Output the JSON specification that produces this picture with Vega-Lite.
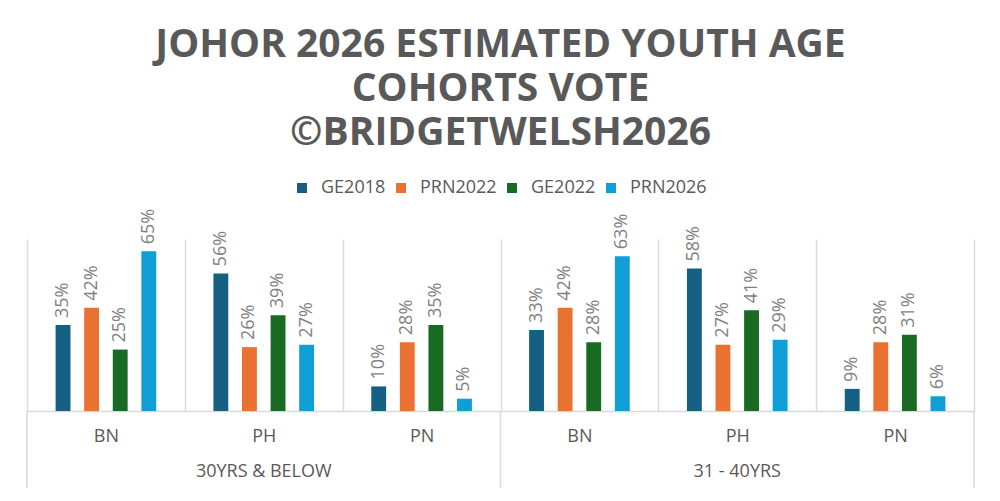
{
  "$schema": "https://vega.github.io/schema/vega-lite/v6.json",
  "autosize": {"type": "none"},
  "width": 947,
  "height": 172,
  "padding": {"left": 27, "top": 239, "right": 26, "bottom": 90},
  "background": "white",
  "title": {
    "text": ["JOHOR 2026 ESTIMATED YOUTH AGE", "COHORTS VOTE", "©BRIDGETWELSH2026"],
    "font": "Open Sans",
    "fontSize": 39,
    "fontWeight": "bold",
    "color": "#595959",
    "lineHeight": 44,
    "anchor": "middle",
    "offset": 26
  },
  "config": {
    "view": {"stroke": null},
    "font": "Open Sans"
  },
  "data": {
    "values": [
      {"cohort": "30YRS & BELOW", "party": "BN", "group": "30YRS & BELOW|BN", "year": "GE2018", "value": 0.35},
      {"cohort": "30YRS & BELOW", "party": "BN", "group": "30YRS & BELOW|BN", "year": "PRN2022", "value": 0.42},
      {"cohort": "30YRS & BELOW", "party": "BN", "group": "30YRS & BELOW|BN", "year": "GE2022", "value": 0.25},
      {"cohort": "30YRS & BELOW", "party": "BN", "group": "30YRS & BELOW|BN", "year": "PRN2026", "value": 0.65},
      {"cohort": "30YRS & BELOW", "party": "PH", "group": "30YRS & BELOW|PH", "year": "GE2018", "value": 0.56},
      {"cohort": "30YRS & BELOW", "party": "PH", "group": "30YRS & BELOW|PH", "year": "PRN2022", "value": 0.26},
      {"cohort": "30YRS & BELOW", "party": "PH", "group": "30YRS & BELOW|PH", "year": "GE2022", "value": 0.39},
      {"cohort": "30YRS & BELOW", "party": "PH", "group": "30YRS & BELOW|PH", "year": "PRN2026", "value": 0.27},
      {"cohort": "30YRS & BELOW", "party": "PN", "group": "30YRS & BELOW|PN", "year": "GE2018", "value": 0.10},
      {"cohort": "30YRS & BELOW", "party": "PN", "group": "30YRS & BELOW|PN", "year": "PRN2022", "value": 0.28},
      {"cohort": "30YRS & BELOW", "party": "PN", "group": "30YRS & BELOW|PN", "year": "GE2022", "value": 0.35},
      {"cohort": "30YRS & BELOW", "party": "PN", "group": "30YRS & BELOW|PN", "year": "PRN2026", "value": 0.05},
      {"cohort": "31 - 40YRS", "party": "BN", "group": "31 - 40YRS|BN", "year": "GE2018", "value": 0.33},
      {"cohort": "31 - 40YRS", "party": "BN", "group": "31 - 40YRS|BN", "year": "PRN2022", "value": 0.42},
      {"cohort": "31 - 40YRS", "party": "BN", "group": "31 - 40YRS|BN", "year": "GE2022", "value": 0.28},
      {"cohort": "31 - 40YRS", "party": "BN", "group": "31 - 40YRS|BN", "year": "PRN2026", "value": 0.63},
      {"cohort": "31 - 40YRS", "party": "PH", "group": "31 - 40YRS|PH", "year": "GE2018", "value": 0.58},
      {"cohort": "31 - 40YRS", "party": "PH", "group": "31 - 40YRS|PH", "year": "PRN2022", "value": 0.27},
      {"cohort": "31 - 40YRS", "party": "PH", "group": "31 - 40YRS|PH", "year": "GE2022", "value": 0.41},
      {"cohort": "31 - 40YRS", "party": "PH", "group": "31 - 40YRS|PH", "year": "PRN2026", "value": 0.29},
      {"cohort": "31 - 40YRS", "party": "PN", "group": "31 - 40YRS|PN", "year": "GE2018", "value": 0.09},
      {"cohort": "31 - 40YRS", "party": "PN", "group": "31 - 40YRS|PN", "year": "PRN2022", "value": 0.28},
      {"cohort": "31 - 40YRS", "party": "PN", "group": "31 - 40YRS|PN", "year": "GE2022", "value": 0.31},
      {"cohort": "31 - 40YRS", "party": "PN", "group": "31 - 40YRS|PN", "year": "PRN2026", "value": 0.06}
    ]
  },
  "encoding": {
    "x": {
      "field": "group", "type": "nominal", "sort": null,
      "scale": {"paddingInner": 0, "paddingOuter": 0},
      "axis": {
        "orient": "bottom",
        "title": null,
        "labelAngle": 0,
        "labelExpr": "split(datum.value, '|')[1]",
        "labelFont": "Open Sans",
        "labelFontSize": 18,
        "labelColor": "#595959",
        "labelPadding": 16,
        "ticks": false,
        "grid": true,
        "gridColor": "#d9d9d9",
        "gridWidth": 1.5,
        "tickBand": "extent",
        "domain": true,
        "domainColor": "#d9d9d9",
        "domainWidth": 1.5
      }
    },
    "y": {"field": "value", "type": "quantitative", "scale": {"domain": [0, 0.7], "nice": false, "zero": true}, "axis": null}
  },
  "layer": [
    {
      "mark": {"type": "bar"},
      "encoding": {
        "xOffset": {"field": "year", "type": "nominal", "sort": ["GE2018", "PRN2022", "GE2022", "PRN2026"], "scale": {"paddingInner": 0.48, "paddingOuter": 1}},
        "color": {
          "field": "year", "type": "nominal",
          "scale": {"domain": ["GE2018", "PRN2022", "GE2022", "PRN2026"], "range": ["#156082", "#E97132", "#196B24", "#0F9ED5"]},
          "legend": {
            "title": null,
            "orient": "none",
            "direction": "horizontal",
            "legendX": 266,
            "legendY": -60,
            "symbolType": "square",
            "symbolSize": 100,
            "labelFont": "Open Sans",
            "labelFontSize": 18,
            "labelColor": "#595959",
            "labelOffset": 10,
            "columnPadding": 6
          }
        }
      }
    },
    {
      "mark": {"type": "text", "angle": 270, "align": "left", "baseline": "middle", "dx": 7, "font": "Open Sans", "fontSize": 18, "color": "#7f7f7f"},
      "encoding": {
        "xOffset": {"field": "year", "type": "nominal", "sort": ["GE2018", "PRN2022", "GE2022", "PRN2026"]},
        "text": {"field": "value", "type": "quantitative", "format": ".0%"}
      }
    },
    {
      "transform": [{"filter": "datum.party == 'PH' && datum.year == 'GE2018'"}],
      "mark": {"type": "text", "align": "center", "baseline": "middle", "font": "Open Sans", "fontSize": 18, "color": "#595959"},
      "encoding": {
        "y": {"datum": -0.247},
        "text": {"field": "cohort", "type": "nominal"}
      }
    },
    {
      "transform": [{"filter": "datum.party == 'BN' && datum.year == 'GE2018'"}],
      "mark": {"type": "rule", "color": "#d9d9d9", "strokeWidth": 1.5},
      "encoding": {
        "x": {"field": "group", "type": "nominal", "sort": null, "bandPosition": 0},
        "y": {"datum": 0},
        "y2": {"datum": -0.313}
      }
    },
    {
      "transform": [{"filter": "datum.cohort == '31 - 40YRS' && datum.party == 'PN' && datum.year == 'GE2018'"}],
      "mark": {"type": "rule", "color": "#d9d9d9", "strokeWidth": 1.5},
      "encoding": {
        "x": {"field": "group", "type": "nominal", "sort": null, "bandPosition": 1},
        "y": {"datum": 0},
        "y2": {"datum": -0.313}
      }
    }
  ]
}
